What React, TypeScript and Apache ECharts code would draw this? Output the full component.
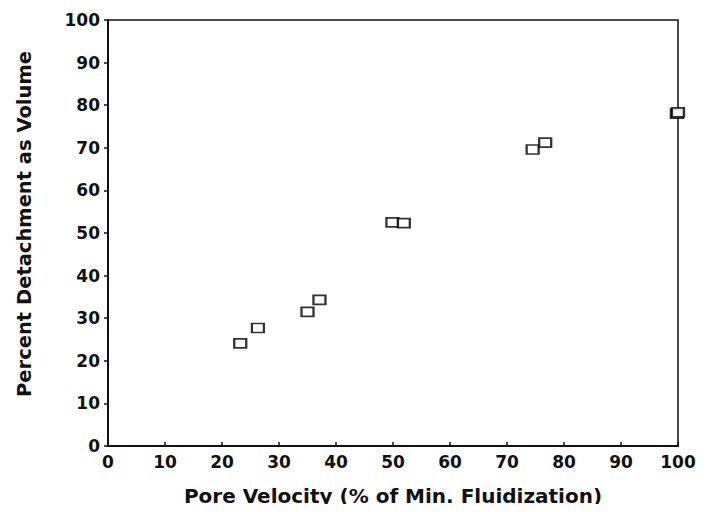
import React, { useEffect, useRef } from "react";
import * as echarts from "echarts";

const poreVelocity = [23.2, 26.3, 35.0, 37.1, 49.9, 51.9, 74.5, 76.7, 99.8, 100];
const detachment = [24.1, 27.7, 31.5, 34.3, 52.5, 52.3, 69.6, 71.2, 78.0, 78.3];
const xTitle = "Pore Velocity (% of Min. Fluidization)";
const yTitle = "Percent Detachment as Volume";

export default function App() {
  const ref = useRef<HTMLDivElement>(null);
  useEffect(() => {
    if (!ref.current) return;
    const chart = echarts.init(ref.current, null, { renderer: "svg" });
    const font = "'DejaVu Sans', 'Liberation Sans', Arial, sans-serif";
    chart.setOption({
      animation: false,
      backgroundColor: "#fff",
      grid: {
        left: 108,
        right: 32,
        top: 20,
        bottom: 66,
        show: true,
        borderColor: "#111",
        borderWidth: 1.5,
        backgroundColor: "transparent",
      },
      xAxis: {
        type: "value",
        min: 0,
        max: 100,
        interval: 10,
        name: xTitle,
        nameLocation: "middle",
        nameGap: 40,
        nameTextStyle: { fontFamily: font, fontWeight: "bold", fontSize: 20, color: "#111" },
        axisLine: { show: true, lineStyle: { color: "#111", width: 2 } },
        axisTick: { show: true, inside: true, length: 4, lineStyle: { color: "#111", width: 1.5 } },
        axisLabel: { fontFamily: font, fontWeight: "bold", fontSize: 17, color: "#111", margin: 7 },
        splitLine: { show: false },
      },
      yAxis: {
        type: "value",
        min: 0,
        max: 100,
        interval: 10,
        name: yTitle,
        nameLocation: "middle",
        nameGap: 74,
        nameTextStyle: {
          fontFamily: font,
          fontWeight: "bold",
          fontSize: 19.5,
          color: "#111",
          padding: [0, 0, 0, 18],
        },
        axisLine: { show: true, lineStyle: { color: "#111", width: 2 } },
        axisTick: { show: true, inside: false, length: 4, lineStyle: { color: "#111", width: 1.5 } },
        axisLabel: { fontFamily: font, fontWeight: "bold", fontSize: 17, color: "#111", margin: 8 },
        splitLine: { show: false },
      },
      series: [
        {
          type: "scatter",
          data: poreVelocity.map((x, i) => [x, detachment[i]]),
          symbol: "rect",
          symbolSize: [12, 9],
          itemStyle: { color: "#fff", borderColor: "#000", borderWidth: 2 },
        },
      ],
    });
    return () => chart.dispose();
  }, []);
  return <div ref={ref} style={{ width: 710, height: 512, margin: -8 }} />;
}
